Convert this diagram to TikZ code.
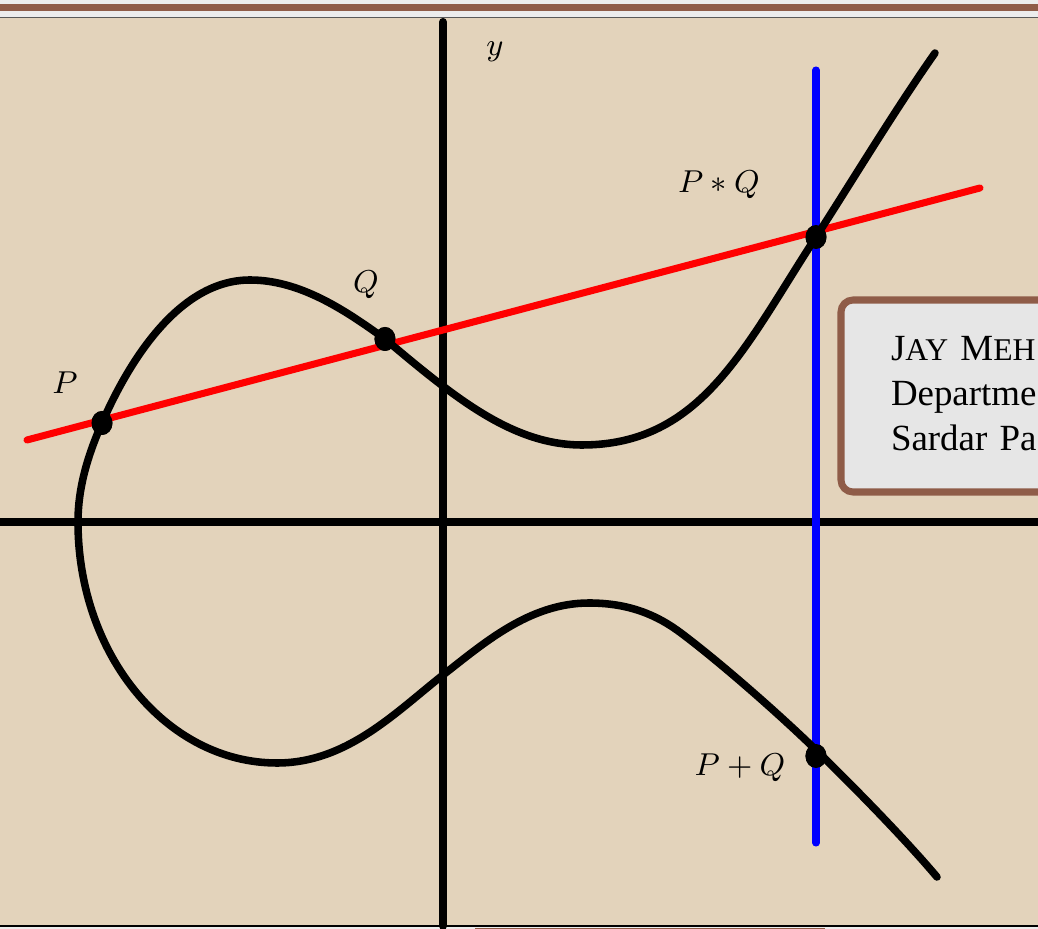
\documentclass[tikz,border=0pt]{standalone}
\usepackage{fontspec}
\newfontfamily\boxfont{Liberation Serif}
\usetikzlibrary{shapes.geometric}

\definecolor{tanbg}{RGB}{227,211,187}
\definecolor{framebrown}{RGB}{143,92,72}
\definecolor{boxgray}{RGB}{230,230,230}
\definecolor{pagegray}{RGB}{236,236,236}

\begin{document}
\begin{tikzpicture}[
    axis/.style={line width=2.3pt},
    curve/.style={line width=2.15pt, line cap=round, line join=round},
    secant/.style={line width=2pt, red, line cap=round},
    vline/.style={line width=2pt, blue, line cap=round},
    dot/.style={ellipse, fill=black, inner sep=0pt, minimum width=0.21cm, minimum height=0.24cm},
    lab/.style={font=\fontsize{9.5}{11}\selectfont, inner sep=0pt},
    infobox/.style={draw=framebrown, line width=2pt, fill=boxgray, rounded corners=0.12cm,
        anchor=north west, align=left, inner xsep=0.5cm, minimum height=1.92cm,
        text width=4cm, font=\boxfont\fontsize{10.5}{12.8}\selectfont}
]

% ---------- Page ----------
\def\xmin{-4.43}
\def\xmax{5.95}
\useasboundingbox (\xmin,-4.07) rectangle (\xmax,5.22);
\fill[pagegray] (\xmin,-4.07) rectangle (\xmax,5.22);
\fill[framebrown] (\xmin,5.18) rectangle (\xmax,5.11);
\fill[tanbg] (\xmin,-4.04) rectangle (\xmax,5.045);
\draw[gray!70!black, line width=0.5pt] (\xmin,5.045) -- (\xmax,5.045);
\draw[line width=0.8pt] (\xmin,-4.04) -- (\xmax,-4.04);
\fill[framebrown] (0.32,-4.058) rectangle (3.82,-4.075);

% ---------- Axes ----------
\draw[axis] (\xmin,0) -- (\xmax,0);
\draw[axis, line cap=round] (0,5.0) -- (0,-4.04);
\node[lab] (ylab) at (0.52,4.70) {$y$};

% ---------- Points ----------
\node[dot] (P) at (-3.41,0.99) {};
\node[dot] (Q) at (-0.58,1.83) {};
\node[dot] (PQ) at (3.73,2.85) {};
\node[dot] (PplusQ) at (3.73,-2.34) {};

% ---------- Lines ----------
\coordinate (r1) at (-4.16,0.82);
\coordinate (r2) at (5.37,3.34);
\draw[secant] (r1) -- (r2);

\coordinate (b1) at (3.73,4.52);
\coordinate (b2) at (3.73,-3.21);
\draw[vline] (b1) -- (b2);

% ---------- Curve ----------
% upper branch
\draw[curve] (4.92,4.69)
    .. controls (4.52,4.12) and (4.11,3.44) .. (3.73,2.85)
    .. controls (3.02,1.76) and (2.59,0.77) .. (1.39,0.77)
    .. controls (0.69,0.77) and (0.11,1.25) .. (-0.58,1.83)
    .. controls (-0.98,2.12) and (-1.43,2.42) .. (-1.93,2.42)
    .. controls (-2.63,2.42) and (-3.13,1.63) .. (-3.41,0.99)
    .. controls (-3.55,0.67) and (-3.65,0.35) .. (-3.65,0)
% lower branch
    .. controls (-3.65,-1.33) and (-2.76,-2.41) .. (-1.66,-2.41)
    .. controls (-0.96,-2.41) and (-0.47,-1.90) .. (0,-1.53)
    .. controls (0.40,-1.22) and (0.86,-0.81) .. (1.46,-0.81)
    .. controls (1.86,-0.81) and (2.14,-0.93) .. (2.38,-1.11)
    .. controls (2.78,-1.41) and (3.37,-1.93) .. (3.73,-2.28)
    .. controls (4.09,-2.63) and (4.62,-3.17) .. (4.94,-3.55);

% dots on top of the curve
\fill (P) ellipse (0.105 and 0.12);
\fill (Q) ellipse (0.105 and 0.12);
\fill (PQ) ellipse (0.105 and 0.12);
\fill (PplusQ) ellipse (0.105 and 0.12);

% ---------- Labels ----------
\node[lab] (Plab) at (-3.78,1.39) {$P$};
\node[lab] (Qlab) at (-0.77,2.37) {$Q$};
\node[lab] (PQlab) at (2.76,3.37) {$P*Q$};
\node[lab] (PplusQlab) at (2.97,-2.46) {$P+Q$};

% ---------- Name box ----------
\node[infobox] (namebox) at (3.945,2.255)
    {\raisebox{0.5mm}{J{\fontsize{9}{10}\selectfont AY} M{\fontsize{9}{10}\selectfont EH}}\\
     \raisebox{0.5mm}{Departme}\\
     \raisebox{0.5mm}{Sardar Pa}};

\end{tikzpicture}
\end{document}
